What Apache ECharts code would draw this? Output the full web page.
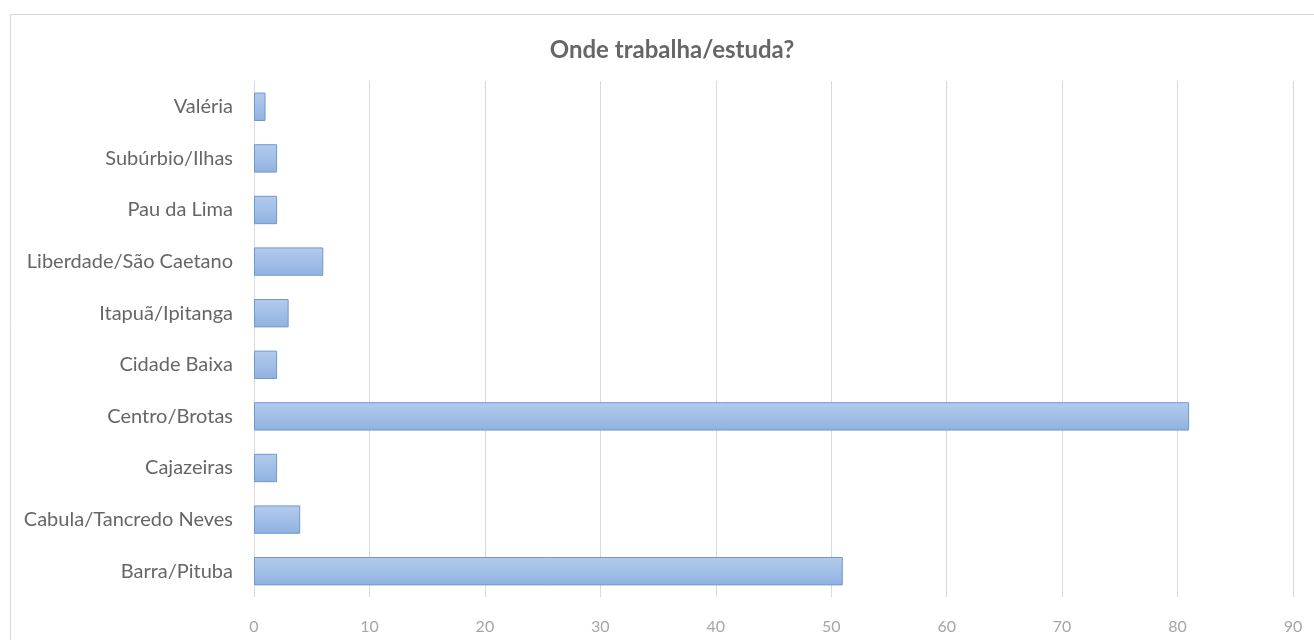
<!DOCTYPE html>
<html>
<head>
<meta charset="utf-8">
<script src="https://cdn.jsdelivr.net/npm/echarts@6/dist/echarts.min.js"></script>
<style>
  html, body { margin: 0; padding: 0; background: #ffffff; }
  #chart { width: 1314px; height: 640px; }
</style>
</head>
<body>
<div id="chart"></div>
<script>
// Regions, listed from the bottom of the chart to the top
const categories = [
  'Barra/Pituba',
  'Cabula/Tancredo Neves',
  'Cajazeiras',
  'Centro/Brotas',
  'Cidade Baixa',
  'Itapuã/Ipitanga',
  'Liberdade/São Caetano',
  'Pau da Lima',
  'Subúrbio/Ilhas',
  'Valéria'
];
const counts = [51, 4, 2, 81, 2, 3, 6, 2, 2, 1];
const axisTicks = [0, 10, 20, 30, 40, 50, 60, 70, 80, 90];

const chart = echarts.init(document.getElementById('chart'));
const fontFamily = 'Lato, "Open Sans", sans-serif';

chart.setOption({
  animation: false,
  backgroundColor: '#ffffff',
  graphic: [{
    type: 'rect',
    shape: { x: 10.5, y: 14.5, width: 1340, height: 700 },
    style: { fill: 'none', stroke: '#d9d9d9', lineWidth: 1 },
    silent: true
  }],
  title: {
    text: 'Onde trabalha/estuda?',
    left: 667,
    top: 33,
    textAlign: 'center',
    textStyle: { color: '#666666', fontSize: 24, fontWeight: 'bold', fontFamily }
  },
  grid: { left: 254, right: 21, top: 81, bottom: 43, containLabel: false },
  xAxis: {
    type: 'value',
    min: axisTicks[0],
    max: axisTicks[axisTicks.length - 1],
    interval: axisTicks[1] - axisTicks[0],
    axisLine: { show: false },
    axisTick: { show: false },
    splitLine: { show: true, lineStyle: { color: '#d9d9d9', width: 1 } },
    axisLabel: { color: '#a6a6a6', fontSize: 16, fontFamily, margin: 22 }
  },
  yAxis: {
    type: 'category',
    data: categories,
    axisLine: { show: false },
    axisTick: { show: false },
    axisLabel: { color: '#666666', fontSize: 20, fontFamily, margin: 21 }
  },
  series: [{
    type: 'bar',
    data: counts,
    barCategoryGap: '45%',
    itemStyle: {
      color: new echarts.graphic.LinearGradient(0, 0, 0, 1, [
        { offset: 0, color: '#b3cbed' },
        { offset: 0.5, color: '#a2bfe7' },
        { offset: 1, color: '#8fb2e0' }
      ]),
      borderColor: '#6f98cc',
      borderWidth: 1
    }
  }]
});
</script>
</body>
</html>
